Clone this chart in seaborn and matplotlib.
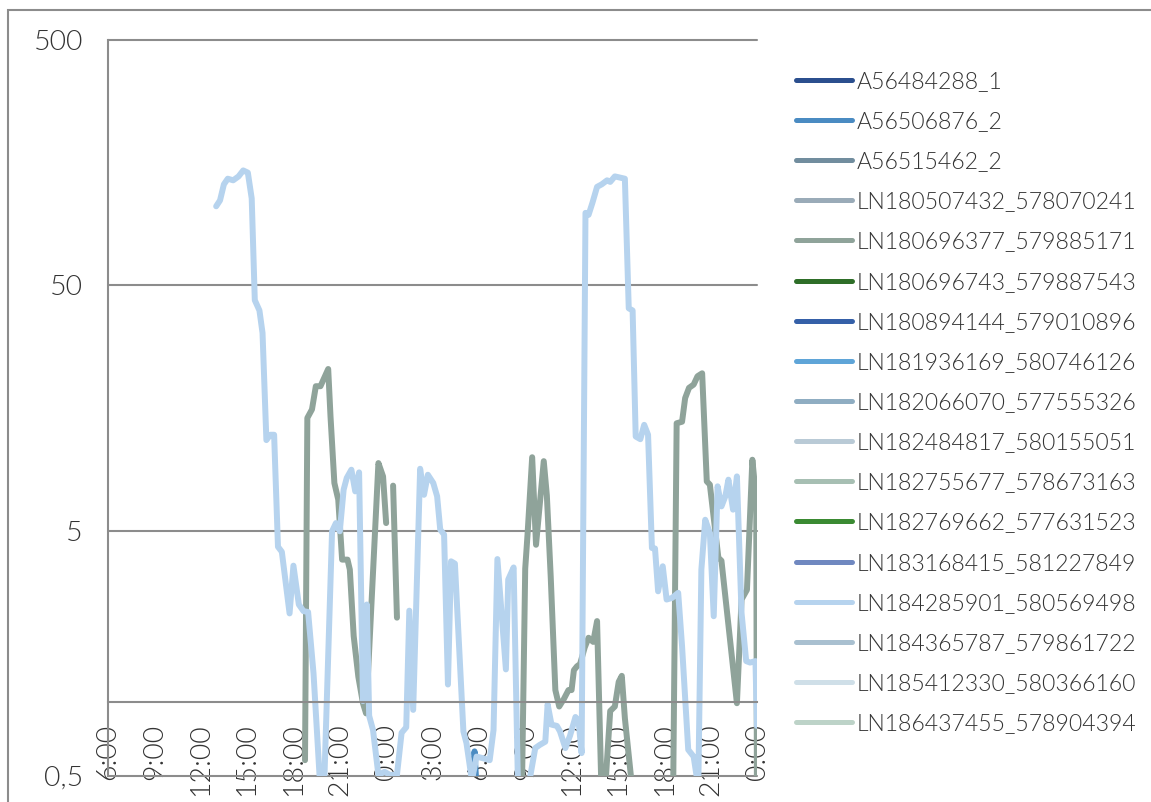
import numpy as np
import pandas as pd
import matplotlib
matplotlib.use("Agg")
import matplotlib.pyplot as plt
from matplotlib.lines import Line2D
from matplotlib.patches import Rectangle
from matplotlib.ticker import FixedLocator, NullLocator
import seaborn as sns

# ---- series (legend order) and their colours ----
series_names = [
    "A56484288_1", "A56506876_2", "A56515462_2",
    "LN180507432_578070241", "LN180696377_579885171", "LN180696743_579887543",
    "LN180894144_579010896", "LN181936169_580746126", "LN182066070_577555326",
    "LN182484817_580155051", "LN182755677_578673163", "LN182769662_577631523",
    "LN183168415_581227849", "LN184285901_580569498", "LN184365787_579861722",
    "LN185412330_580366160", "LN186437455_578904394",
]
series_colors = [
    "#2b4f8e", "#4a8bc2", "#718d9e",
    "#9aabb8", "#8fa39a", "#2e6e28",
    "#3560a8", "#5fa5d8", "#8fadc2",
    "#b9cad6", "#a7bfb3", "#3a8a32",
    "#7088c0", "#b6d3ee", "#a9c0d0",
    "#cfdfe8", "#bdd3c8",
]

# ---- measurements: hours counted from midnight of the first day ----
hours_LN184285901 = [
    13.0, 13.25, 13.5, 13.75, 14.1, 14.45, 14.75, 15.05, 15.3, 15.5, 15.8, 16.0,
    16.25, 16.5, 16.75, 17.0, 17.25, 17.75, 18.0, 18.35, 18.65, 18.95, 19.3, 19.9,
    20.5, 20.75, 21.0, 21.25, 21.45, 21.75, 22.0, 22.25, 22.5, 22.75, 22.9, 23.15,
    23.5, 23.9, 24.25, 24.7, 25.0, 25.3, 25.5, 25.75, 26.2, 26.45, 26.7, 27.05,
    27.3, 27.5, 27.75, 28.0, 28.2, 28.45, 29.0, 29.2, 29.55, 29.85, 30.3, 30.7,
    30.95, 31.2, 31.75, 31.9, 32.25, 32.55, 33.2, 33.65, 33.95, 34.3, 34.45, 34.7,
    35.05, 35.25, 35.6, 35.9, 36.25, 36.45, 36.65, 36.9, 37.1, 37.35, 37.65, 37.95,
    38.3, 38.5, 38.8, 39.45, 39.7, 39.95, 40.15, 40.45, 40.7, 40.95, 41.2, 41.4,
    41.6, 41.9, 42.15, 42.5, 42.9, 43.15, 43.55, 43.9, 44.2, 44.4, 44.65, 44.95,
    45.2, 45.45, 45.7, 45.95, 46.15, 46.45, 46.7, 47.0, 47.3, 47.55, 47.9, 48.0,
]
values_LN184285901 = [
    105, 111, 129, 136, 134, 139, 147, 144, 113, 43.5, 39.5, 32,
    11.7, 12.3, 12.3, 4.3, 4.1, 2.3, 3.6, 2.5, 2.35, 2.33, 1.31, 0.3,
    4.97, 5.37, 4.97, 7.35, 8.2, 8.86, 7.23, 8.64, 1.01, 2.5, 0.88, 0.77,
    0.505, 0.52, 0.505, 0.505, 0.75, 0.79, 2.36, 0.93, 8.94, 7.0, 8.45, 7.82,
    6.9, 5.05, 4.82, 1.18, 3.75, 3.67, 0.76, 0.68, 0.48, 0.6, 0.59, 0.58,
    0.77, 3.83, 1.36, 3.16, 3.54, 0.4, 0.45, 0.65, 0.67, 0.69, 0.98, 0.81,
    0.8, 0.76, 0.65, 0.73, 0.87, 0.84, 0.62, 98.7, 96.9, 108.5, 126, 129,
    134, 132, 139, 136, 40.3, 39.5, 12.1, 11.8, 13.5, 12.3, 4.25, 4.23,
    2.83, 3.58, 2.62, 2.66, 2.79, 1.69, 0.64, 0.6, 0.45, 3.47, 5.54, 4.89,
    2.24, 7.58, 6.28, 6.9, 8.07, 6.09, 8.32, 2.31, 1.47, 1.45, 1.47, 0.8,
]

# NaN marks a break in the record
hours_LN180696377 = [
    18.75, 18.9, 19.2, 19.45, 19.75, 20.25, 20.4, 20.65, 20.9, 21.15, 21.5, 21.65,
    21.9, 22.2, 22.5, 22.7, 23.5, 23.8, 24.0, np.nan,
    24.45, 24.7, np.nan,
    32.75, 33.0, 33.15, 33.45, 33.7, 34.2, 34.4, 34.65, 34.95, 35.2, 35.5, 35.8,
    36.0, 36.15, 36.35, 36.55, 36.85, 37.1, 37.4, 37.65, 38.0, 38.5, 38.8, 39.05,
    39.25, 39.45, 40.0, np.nan,
    42.55, 42.8, 43.15, 43.35, 43.6, 43.9, 44.15, 44.45, 44.75, 44.95, 45.5, 45.7,
    46.7, 47.0, 47.35, 47.7, 47.95, 48.0,
]
values_LN180696377 = [
    0.58, 14.4, 15.6, 19.4, 19.4, 22.8, 14.6, 7.82, 6.69, 3.81, 3.81, 3.47,
    1.86, 1.27, 0.99, 0.9, 9.43, 8.32, 5.37, np.nan,
    7.63, 2.21, np.nan,
    0.3, 3.5, 4.82, 9.96, 4.38, 9.6, 6.96, 3.25, 1.12, 0.96, 1.03, 1.12,
    1.12, 1.35, 1.4, 1.43, 1.67, 1.83, 1.76, 2.14, 0.3, 0.92, 0.96, 1.21,
    1.28, 0.86, 0.4, np.nan,
    0.3, 13.7, 13.9, 17.35, 19.1, 19.7, 21.3, 21.9, 7.94, 7.7, 3.88, 3.77,
    0.99, 2.62, 2.87, 9.73, 6.69, 0.3,
]

hours_A56506876 = [29.5, 29.72, 30.0]
values_A56506876 = [0.3, 0.63, 0.3]

y_ticks = [0.5, 5, 50, 500]
y_tick_labels = ["0,5", "5", "50", "500"]
x_ticks = list(range(6, 49, 3))
x_tick_labels = [f"{h % 24}:00" for h in x_ticks]

# ---- long-form table, one unit per unbroken stretch ----
frames = []
for name, hrs, vals in [
    ("A56506876_2", hours_A56506876, values_A56506876),
    ("LN180696377_579885171", hours_LN180696377, values_LN180696377),
    ("LN184285901_580569498", hours_LN184285901, values_LN184285901),
]:
    hrs = np.asarray(hrs, float)
    vals = np.asarray(vals, float)
    seg = np.cumsum(np.isnan(vals))
    keep = ~np.isnan(vals)
    frames.append(pd.DataFrame({
        "series": name, "hour": hrs[keep], "value": vals[keep],
        "unit": [f"{name}#{s}" for s in seg[keep]],
    }))
df = pd.concat(frames, ignore_index=True)

sns.set_style("white")
plt.rcParams["font.family"] = ["Lato", "DejaVu Sans"]
plt.rcParams["font.weight"] = 300

W, H = 1151, 802
fig = plt.figure(figsize=(W / 100, H / 100), dpi=100)
ax = fig.add_axes([108 / W, 1 - 776 / H, (757 - 108) / W, (776 - 40) / H])

palette = dict(zip(series_names, series_colors))
sns.lineplot(
    data=df, x="hour", y="value", hue="series", units="unit",
    estimator=None, sort=False, palette=palette, hue_order=series_names,
    lw=4.3, legend=False, ax=ax,
)
for ln in ax.get_lines():
    ln.set_solid_joinstyle("round")
    ln.set_solid_capstyle("round")

grid_c = "#8c8c8c"
text_c = "#333333"
ax.set_yscale("log")
ax.set_ylim(0.5, 500)
ax.set_xlim(6, 48)
ax.yaxis.set_major_locator(FixedLocator(y_ticks))
ax.yaxis.set_minor_locator(NullLocator())
ax.set_yticklabels(y_tick_labels)
ax.set_xticks(x_ticks)
ax.set_xticklabels(x_tick_labels)
ax.set_xlabel("")
ax.set_ylabel("")

ax.spines["bottom"].set_position(("data", 1))
for side in ("top", "right"):
    ax.spines[side].set_visible(False)
for side in ("left", "bottom"):
    ax.spines[side].set_color(grid_c)
    ax.spines[side].set_linewidth(1.5)

ax.grid(axis="y", color=grid_c, lw=1.5)
ax.grid(axis="x", visible=False)
ax.set_axisbelow(True)
for gl in ax.get_ygridlines():
    gl.set_clip_on(False)

ax.tick_params(axis="y", length=6, width=1.5, color=grid_c, labelsize=20.5,
               pad=12, labelcolor=text_c, direction="out")
ax.tick_params(axis="x", length=6.5, width=1.5, color=grid_c, labelsize=20.5,
               pad=9, labelcolor=text_c, direction="out", labelrotation=90)
for lab in ax.get_xticklabels():
    lab.set_verticalalignment("top")
    lab.set_horizontalalignment("center")

# frame around the whole chart
fig.add_artist(Rectangle((8 / W, -0.2), 1.3, 1 - 10 / H + 0.2,
                         transform=fig.transFigure, fill=False,
                         ec=grid_c, lw=1.5))

handles = [Line2D([], [], color=c, lw=3.6, solid_capstyle="round")
           for c in series_colors]
leg = fig.legend(
    handles, series_names, loc="upper left",
    bbox_to_anchor=(796 / W, 1 - 71 / H), frameon=False,
    prop={"family": ["Lato", "DejaVu Sans"], "size": 16.6, "weight": 300},
    handlelength=2.45, handletextpad=0.18, labelspacing=0.83,
    borderpad=0, borderaxespad=0,
)
for t in leg.get_texts():
    t.set_color(text_c)

fig.savefig("out.png", dpi=100)
